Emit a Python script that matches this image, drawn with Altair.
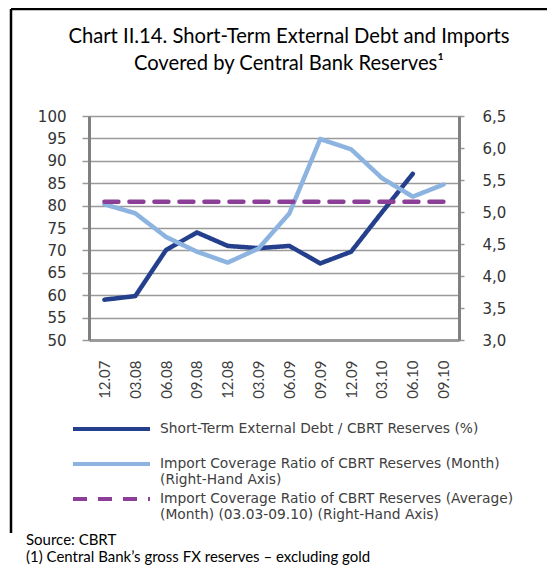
import altair as alt
import pandas as pd

cats = ["12.07", "03.08", "06.08", "09.08", "12.08", "03.09",
        "06.09", "09.09", "12.09", "03.10", "06.10", "09.10"]
debt = [59.0, 59.8, 70.1, 74.0, 71.0, 70.5, 71.0, 67.1, 69.7, 78.5, 87.1, None]
coverage = [5.12, 4.98, 4.61, 4.38, 4.21, 4.43, 4.98, 6.14, 5.98, 5.53, 5.24, 5.43]
average = [5.16, 5.16, 5.16, 5.16, 5.16, 5.16, 5.16, 5.16, 5.16, 5.16, 5.16, 5.16]

s1 = "Short-Term External Debt / CBRT Reserves (%)| "
s2 = "Import Coverage Ratio of CBRT Reserves (Month)|(Right-Hand Axis)"
s3 = "Import Coverage Ratio of  CBRT Reserves (Average)|(Month) (03.03-09.10)  (Right-Hand Axis)"
series = [s1, s2, s3]
colors = ["#243f8b", "#8db4e0", "#8b3f96"]
dashes = [[1, 0], [1, 0], [14, 11]]

left_ticks = [50, 55, 60, 65, 70, 75, 80, 85, 90, 95, 100]
right_ticks = [3.0, 3.5, 4.0, 4.5, 5.0, 5.5, 6.0, 6.5]

title_lines = ["Chart II.14. Short-Term External Debt and Imports",
               "Covered by Central Bank Reserves\u00b9"]
title_rows = [0, 1]
notes = ["Source: CBRT", "(1) Central Bank\u2019s gross FX reserves \u2013 excluding gold"]
note_rows = [0, 1]

FONT = "Lato"
GRID = "#9a9a9a"

df1 = pd.DataFrame({"cat": cats, "value": debt, "series": s1}).dropna()
df2 = pd.concat([
    pd.DataFrame({"cat": cats, "value": coverage, "series": s2}),
    pd.DataFrame({"cat": cats, "value": average, "series": s3}),
])

legend = alt.Legend(
    title=None, orient="none", legendX=-18, legendY=303,
    symbolType="M-1,0H8.625", symbolSize=256, symbolStrokeWidth=4,
    labelOffset=69, rowPadding=2,
    labelFont="DejaVu Sans", labelFontSize=13.8, labelColor="#404040", labelLimit=600,
    labelExpr="split(datum.label, '|')",
)
color = alt.Color("series:N", scale=alt.Scale(domain=series, range=colors), legend=legend)
dash = alt.StrokeDash("series:N", scale=alt.Scale(domain=series, range=dashes), legend=legend)

xenc = alt.X("cat:N", sort=cats, scale=alt.Scale(type="point", padding=0.5),
             axis=alt.Axis(title=None, labelAngle=-90, labelFont=FONT, labelFontSize=15,
                           labelColor="#404040", ticks=False, labelPadding=20,
                           domainColor=GRID, domainWidth=3, grid=False))

left = alt.Chart(df1).mark_line(strokeWidth=4.5, strokeCap="round", strokeJoin="round").encode(
    x=xenc,
    y=alt.Y("value:Q", scale=alt.Scale(domain=[50, 100], nice=False, zero=False),
            axis=alt.Axis(title=None, values=left_ticks, orient="left", grid=True,
                          gridColor=GRID, gridWidth=1.5, domainColor="#808080", domainWidth=3,
                          tickColor=GRID, tickSize=7, tickWidth=1.5, labelPadding=16,
                          labelFont="DejaVu Sans", labelFontSize=15, labelColor="#333333")),
    color=color, strokeDash=dash,
)

right = alt.Chart(df2).mark_line(strokeWidth=4.5, strokeCap="round", strokeJoin="round").encode(
    x=xenc,
    y=alt.Y("value:Q", scale=alt.Scale(domain=[3.0, 6.5], nice=False, zero=False),
            axis=alt.Axis(title=None, values=right_ticks, orient="right", grid=False,
                          domainColor="#808080", domainWidth=3,
                          tickColor=GRID, tickSize=5, tickWidth=1.5, labelPadding=18,
                          labelExpr="replace(format(datum.value, '.1f'), '.', ',')",
                          labelFont="DejaVu Sans", labelFontSize=15, labelColor="#333333")),
    color=color, strokeDash=dash,
)

frame_v = alt.Chart(pd.DataFrame({"k": [0]})).mark_rule(color="black", strokeWidth=2.5).encode(
    x=alt.value(-78), y=alt.value(-107), y2=alt.value(417))
frame_h = alt.Chart(pd.DataFrame({"k": [0]})).mark_rule(color="black", strokeWidth=2.5).encode(
    x=alt.value(-78), x2=alt.value(461), y=alt.value(-107))

title_df = pd.DataFrame({"text": title_lines, "row": title_rows})
title_text = alt.Chart(title_df).mark_text(
    align="center", baseline="alphabetic", font=FONT, fontSize=20.2, color="black"
).encode(
    text="text:N",
    x=alt.value(200),
    y=alt.Y("row:Q", scale=alt.Scale(domain=[0, 1], range=[-73, -46]), axis=None),
)

notes_df = pd.DataFrame({"text": notes, "row": note_rows})
note_text = alt.Chart(notes_df).mark_text(
    align="left", baseline="alphabetic", font=FONT, fontSize=15, color="black"
).encode(
    text="text:N",
    x=alt.value(-63),
    y=alt.Y("row:Q", scale=alt.Scale(domain=[0, 1], range=[429, 446]), axis=None),
)

chart = alt.layer(left, right, frame_v, frame_h, title_text, note_text).resolve_scale(
    y="independent"
).properties(
    width=370, height=224,
    autosize=alt.AutoSizeParams(type="none"),
    padding={"left": 81, "top": 108, "right": 88, "bottom": 225},
).configure_view(stroke=None)

chart.save("out.html", embed_options={"renderer": "svg", "actions": False})
